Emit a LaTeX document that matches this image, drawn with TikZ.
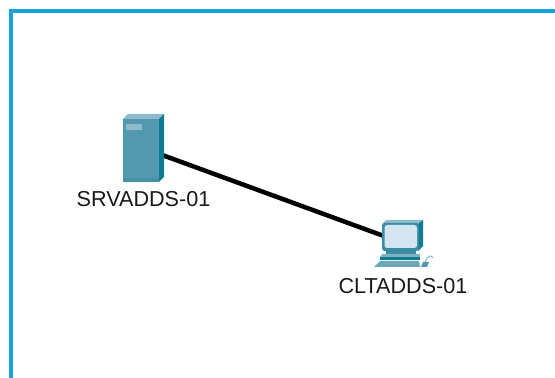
\documentclass[tikz,border=0pt]{standalone}
\usepackage{fontspec}
\setmainfont{Liberation Sans}
\definecolor{framecol}{HTML}{12A5DC}
\definecolor{tealfront}{HTML}{5299B0}
\definecolor{tealtop}{HTML}{8DBBCB}
\definecolor{tealside}{HTML}{0F7A93}
\definecolor{tealdark}{HTML}{3B8CA3}
\definecolor{screencol}{HTML}{D3E5EE}
\tikzset{
    device/.style={minimum width=.8cm, inner sep=0pt},
    devlabel/.style={font=\fontsize{12.3}{14}\selectfont, text=black!90},
    link/.style={line width=.09cm, black}
}
\begin{document}
\begin{tikzpicture}[x=.02cm, y=-.02cm]
        \useasboundingbox (0,0) rectangle (555,378);
        %frame
        \draw[color=framecol, line width=.09cm] (11,378) -- (11,11) -- (555,11);
        % connection first
        \node[device, minimum height=1.36cm] (srv) at (143,148) {};
        \node[device, minimum height=1cm] (clt) at (403,243) {};
        \draw[link] (srv) -- (clt);
        % server
        \fill[tealfront] (123,119) rectangle (159,182);
        \fill[tealtop] (123,119) -- (128,114) -- (164,114) -- (159,119) -- cycle;
        \fill[tealside] (159,119) -- (164,114) -- (164,177) -- (159,182) -- cycle;
        \fill[tealtop] (126,124) rectangle (142,130);
        \fill[tealdark!60!tealfront] (123,178) rectangle (159,182);
        % client monitor
        \fill[tealtop] (382,224) -- (386,220) -- (423,220) -- (418,224) -- cycle;
        \fill[tealside] (418,224) -- (423,220) -- (423,246) -- (418,251) -- cycle;
        \fill[tealdark, rounded corners=1.5] (382,223) rectangle (419,251);
        \fill[screencol, rounded corners=1.5] (384.5,225) rectangle (417,248);
        % client base
        \fill[tealdark] (386,251) rectangle (416,254);
        \fill[tealfront!75!white] (382,254) -- (420,254) -- (420,257) -- (380,257) -- cycle;
        \fill[tealside] (380,257) rectangle (420,260);
        % client keyboard
        \fill[tealfront!85!white] (380,261) -- (419,261) -- (420,267) -- (374,267) -- cycle;
        \draw[tealtop, line width=.02cm] (425,262) .. controls (428,256) and (431,254) .. (433,258);
        \fill[tealfront] (423,262) -- (429,262) -- (427,267) -- (421,267) -- cycle;
        % labels
        \node[devlabel] (srvlabel) at (143.5,199) {SRVADDS-01};
        \node[devlabel] (cltlabel) at (403,286) {CLTADDS-01};
\end{tikzpicture}
\end{document}
